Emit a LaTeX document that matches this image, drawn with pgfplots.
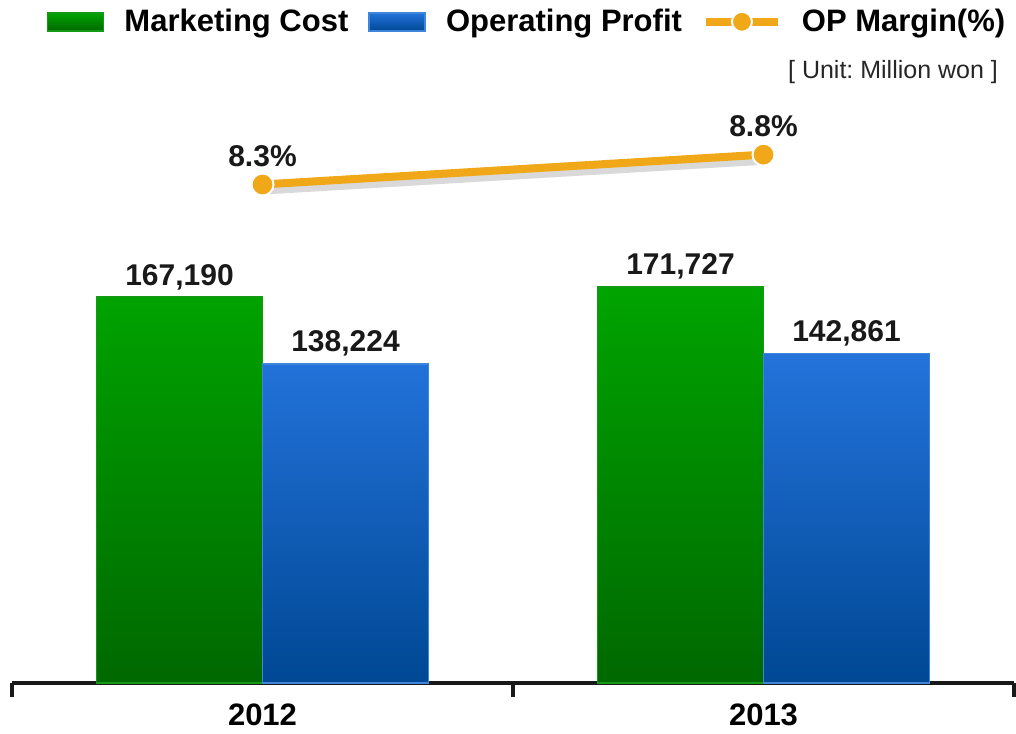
\documentclass[border=0pt]{standalone}
\usepackage{pgfplots}
\pgfplotsset{compat=1.18}
\usepackage{fontspec}
\setmainfont{Liberation Sans}
\frenchspacing

\definecolor{gtop}{HTML}{00A400}
\definecolor{gbot}{HTML}{006800}
\definecolor{gedge}{HTML}{139A13}
\definecolor{btop}{HTML}{2373DB}
\definecolor{bbot}{HTML}{004894}
\definecolor{bedge}{HTML}{3F86DA}
\definecolor{opline}{HTML}{F0A818}

\begin{document}
\begin{tikzpicture}
\useasboundingbox (-6pt,-25pt) rectangle (502pt,341.5pt);
% bars
\begin{axis}[
    at={(0,0)}, anchor=south west,
    scale only axis,
    width=501pt, height=300pt,
    ybar=0pt, bar width=83pt,
    xmin=-0.5, xmax=1.5,
    ymin=0, ymax=260000,
    axis x line*=bottom,
    axis y line=none,
    x axis line style={line width=1.6pt, color=black!90, -},
    xtick={-0.5,0.5,1.5},
    x tick label as interval,
    xticklabels={2012,2013},
    xtick style={line width=1.6pt, color=black!90},
    tick align=outside,
    major tick length=7pt,
    xticklabel style={font=\bfseries\fontsize{15.5}{16}\selectfont},
    /pgf/number format/assume math mode=true,
    /pgf/number format/.cd, fixed, precision=0, 1000 sep={,},
    /pgfplots/.cd,
    nodes near coords,
    every node near coord/.append style={font=\bfseries\fontsize{15}{15}\selectfont, text=black!90},
    clip=false,
]
\addplot[top color=gtop, bottom color=gbot, draw=gedge, line width=0.8pt]
    coordinates {(0,167190) (1,171727)};
\addplot[top color=btop, bottom color=bbot, draw=bedge, line width=0.8pt]
    coordinates {(0,138224) (1,142861)};
\end{axis}
% margin line
\begin{axis}[
    at={(0,0)}, anchor=south west,
    scale only axis,
    width=501pt, height=300pt,
    xmin=-0.5, xmax=1.5,
    ymin=-0.05, ymax=10,
    hide axis,
    clip=false,
    /pgf/number format/assume math mode=true,
    legend columns=3,
    legend style={draw=none, fill=none, at={(0.515,1.102)}, anchor=center,
        font=\bfseries\fontsize{15.5}{16}\selectfont,
        /tikz/every odd column/.append style={column sep=8pt},
        /tikz/every even column/.append style={column sep=8pt}},
    legend cell align=left,
]
\addlegendimage{legend image code/.code={
    \draw[top color=gtop, bottom color=gbot, draw=gedge, line width=0.8pt] (0pt,-4.5pt) rectangle (28pt,4.5pt);}}
\addlegendentry{Marketing Cost}
\addlegendimage{legend image code/.code={
    \draw[top color=btop, bottom color=bbot, draw=bedge, line width=0.8pt] (0pt,-4.5pt) rectangle (28pt,4.5pt);}}
\addlegendentry{Operating Profit}
\addlegendimage{legend image code/.code={
    \draw[opline, line width=4pt] (0pt,0pt) -- (36pt,0pt);
    \fill[opline, draw=white, line width=1pt] (18pt,0pt) circle (5pt);}}
\addlegendentry{OP Margin(\%)}
\addplot[black!25, line width=4pt, opacity=0.6, forget plot, yshift=-3pt, xshift=1pt]
    coordinates {(0,8.3) (1,8.8)};
\addplot[opline, line width=4pt, mark=*, mark size=5.5pt,
    mark options={fill=opline, draw=white, line width=1pt},
    nodes near coords={\pgfmathprintnumber[fixed,precision=1,fixed zerofill]{\pgfplotspointmeta}\%},
    every node near coord/.append style={font=\bfseries\fontsize{15}{15}\selectfont, text=black!90, yshift=5pt}]
    coordinates {(0,8.3) (1,8.8)};
\node[anchor=east, font=\fontsize{12.5}{13}\selectfont, text=black!85]
    at (rel axis cs:0.991,1.018) {[ Unit: Million won ]};
\end{axis}
\end{tikzpicture}
\end{document}
